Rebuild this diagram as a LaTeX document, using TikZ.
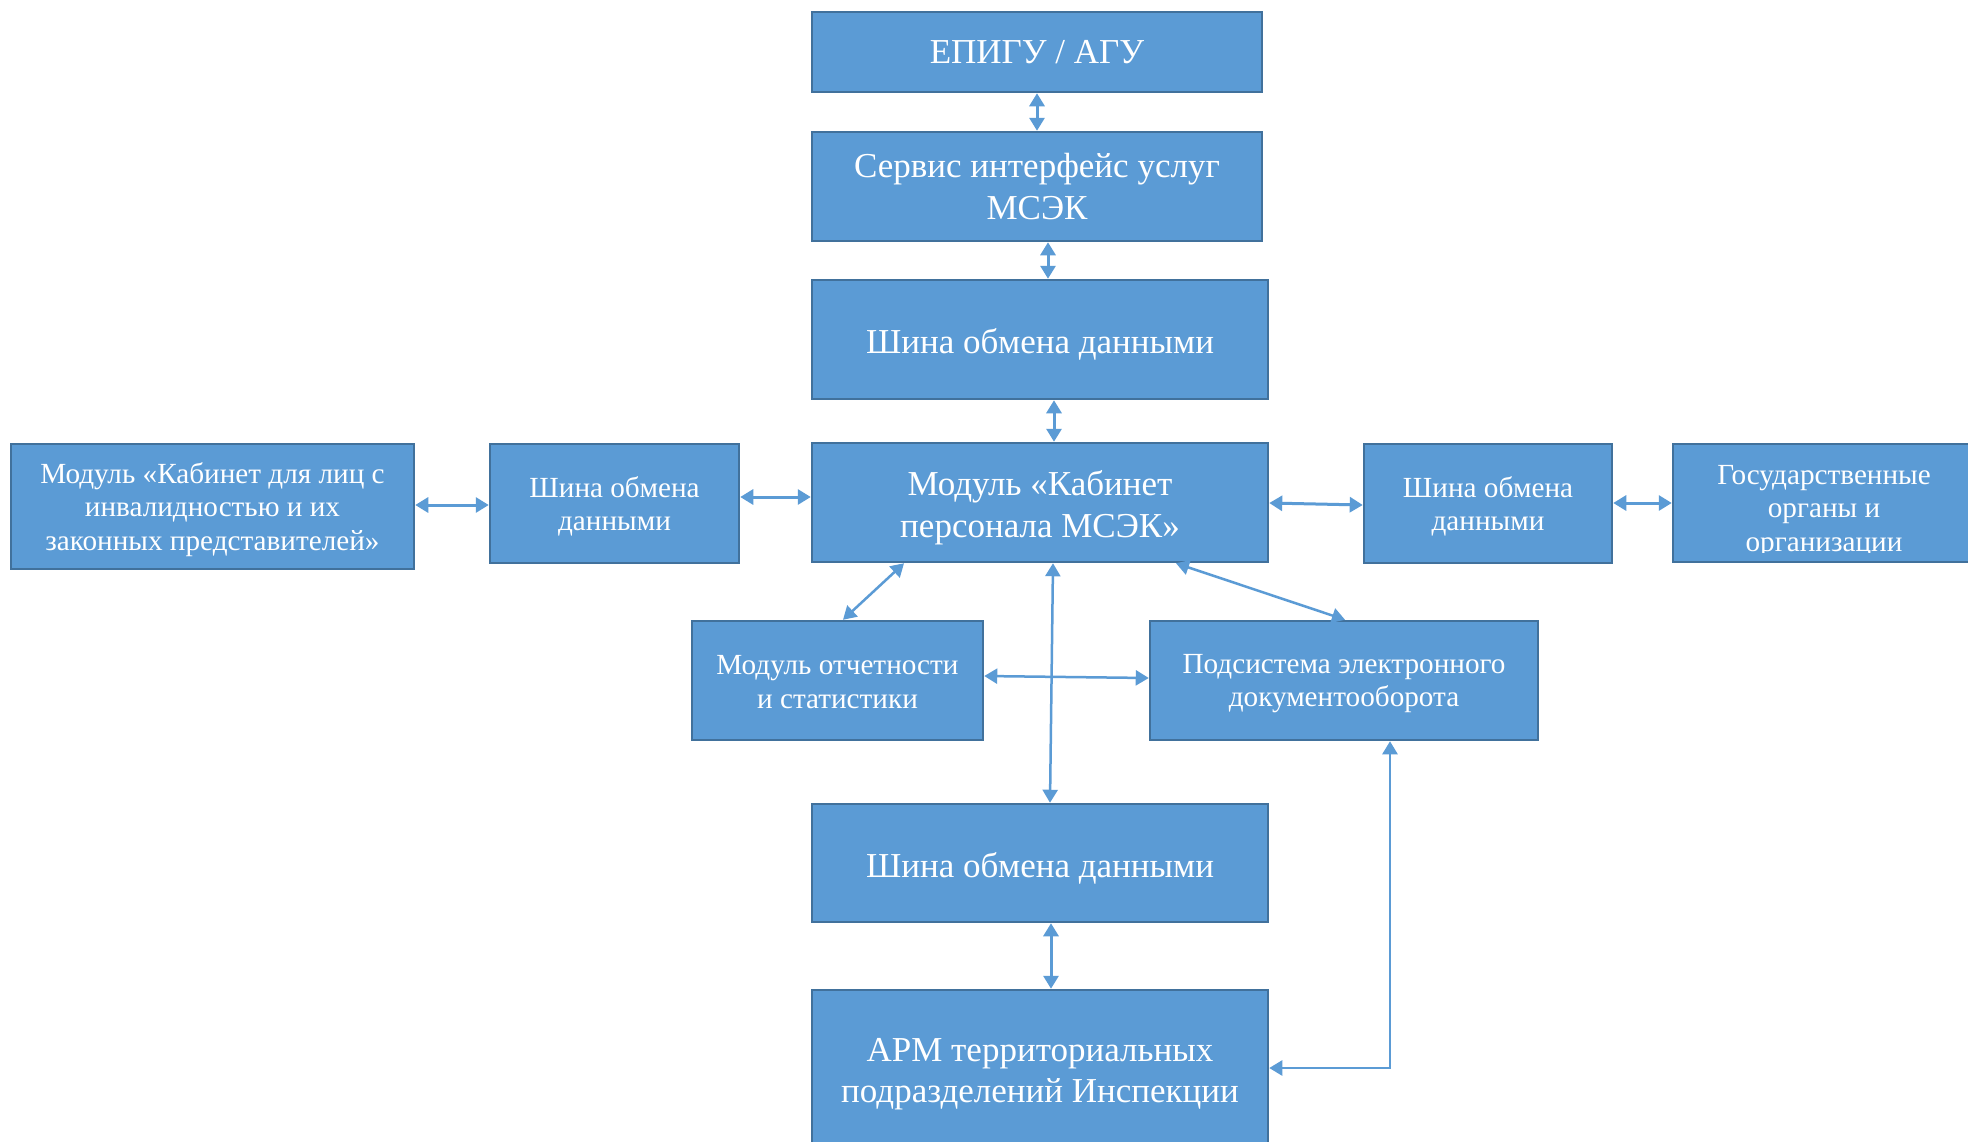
\documentclass[tikz,border=0pt]{standalone}
\usepackage{fontspec}
\setmainfont{Liberation Serif}
\usetikzlibrary{arrows.meta}
\definecolor{boxfill}{HTML}{5B9BD5}
\definecolor{boxline}{HTML}{41719C}
\definecolor{arr}{HTML}{5B9BD5}
\newcommand{\topstrut}[1]{\rule{0pt}{#1}}
\begin{document}
\begin{tikzpicture}[x=1pt,y=-1pt,
  box/.style={draw=boxline, fill=boxfill, line width=2.5pt, inner sep=0pt, text=white, align=center},
  big/.style={font=\fontsize{35}{41.5}\selectfont},
  small/.style={font=\fontsize{29.2}{33.5}\selectfont},
  conn/.style={draw=arr, line width=3pt, {Triangle[length=13pt,width=15pt]}-{Triangle[length=13pt,width=15pt]}},
  thin/.style={line width=2.5pt}
]
\fill[white] (0,0) rectangle (1968,1141);
\useasboundingbox (0,0) rectangle (1968,1141);

\node[box,big,minimum width=450pt,minimum height=80pt] (epigu) at (1037,52) {ЕПИГУ / АГУ};
\node[box,big,minimum width=450pt,minimum height=109pt] (servis) at (1037,186.5) {Сервис интерфейс услуг\\МСЭК};
\node[box,big,minimum width=456pt,minimum height=119pt] (shina1) at (1040,339.5) {\topstrut{35pt}Шина обмена данными};
\node[box,big,minimum width=456pt,minimum height=119pt] (kab) at (1040,502.5) {\topstrut{35pt}Модуль «Кабинет\\персонала МСЭК»};
\node[box,small,minimum width=403pt,minimum height=125pt] (left) at (212.5,506.5) {\topstrut{27pt}Модуль «Кабинет для лиц с\\инвалидностью и их\\законных представителей»};
\node[box,small,minimum width=249pt,minimum height=119pt] (shinaL) at (614.5,503.5) {\topstrut{27pt}Шина обмена\\данными};
\node[box,small,minimum width=248pt,minimum height=119pt] (shinaR) at (1488,503.5) {\topstrut{27pt}Шина обмена\\данными};
\node[box,minimum width=302pt,minimum height=118pt] (gos) at (1824,503) {};
\begin{scope}
  \clip (gos.north west) rectangle ([yshift=11pt]gos.south east);
  \node[small,text=white,align=center,inner sep=0pt] (gostext) at (1824,511.5) {Государственные\\органы и\\организации};
\end{scope}
\node[box,small,minimum width=291pt,minimum height=119pt] (otch) at (837.5,680.5) {\topstrut{22pt}Модуль отчетности\\и статистики};
\node[box,small,minimum width=388pt,minimum height=119pt] (pods) at (1344,680.5) {\topstrut{25pt}Подсистема электронного\\документооборота};
\node[box,big,minimum width=456pt,minimum height=118pt] (shina2) at (1040,863) {\topstrut{35pt}Шина обмена данными};
\node[box,big,minimum width=456pt,minimum height=156pt] (arm) at (1040,1068) {\topstrut{35pt}АРМ территориальных\\подразделений Инспекции};

\draw[conn] (1037,0 |- epigu.south) -- (1037,0 |- servis.north);
\draw[conn] (1048,0 |- servis.south) -- (1048,0 |- shina1.north);
\draw[conn] (1054,0 |- shina1.south) -- (1054,0 |- kab.north);
\draw[conn] (left.east |- 0,505) -- (shinaL.west |- 0,505);
\draw[conn] (shinaL.east |- 0,497) -- (kab.west |- 0,497);
\draw[conn] (kab.east |- 0,503) -- (shinaR.west |- 0,505);
\draw[conn] (shinaR.east |- 0,503) -- (gos.west |- 0,503);
\draw[conn,thin] (904,0 |- kab.south) -- (843,0 |- otch.north);
\draw[conn,thin] (1053,0 |- kab.south) -- (1050,0 |- shina2.north);
\draw[conn,thin] (1176,0 |- kab.south) -- (1345,0 |- pods.north);
\draw[conn,thin] (otch.east |- 0,676) -- (pods.west |- 0,678);
\draw[conn] (1051,0 |- shina2.south) -- (1051,0 |- arm.north);
\draw[conn,thin] (arm.east |- 0,1068) -| (1390,0 |- pods.south);
\end{tikzpicture}
\end{document}
